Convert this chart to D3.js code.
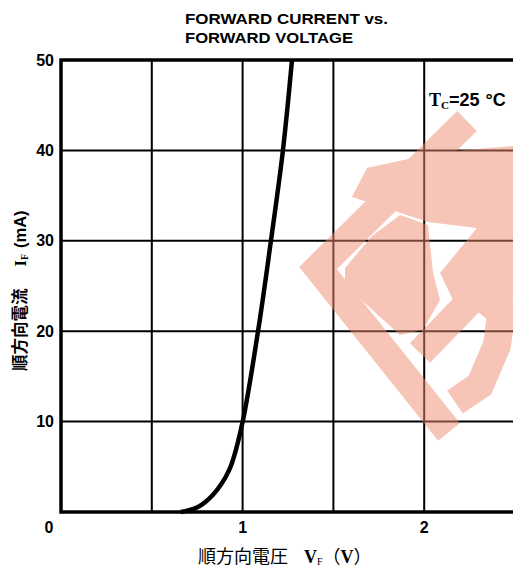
<!DOCTYPE html>
<html>
<head>
<meta charset="utf-8">
<script src="https://d3js.org/d3.v7.min.js"></script>
<style>
  body { margin: 0; background: #fff; }
  svg { display: block; }
</style>
</head>
<body>
<div id="chart"></div>
<script>
// forward voltage (V) vs forward current (mA)
var voltage = [0.66, 0.754, 0.837, 0.925, 0.995, 1.085, 1.156, 1.222, 1.272];
var current = [0, 0.55, 1.9, 4.6, 9.5, 20, 30, 40, 50];

var xGrid = [0, 0.5, 1, 1.5, 2, 2.5];
var yGrid = [0, 10, 20, 30, 40, 50];
var xTickLabels = ["0", "1", "2"];
var yTickLabels = ["10", "20", "30", "40", "50"];

var W = 513, H = 568;
var margin = {top: 60, left: 61, bottom: 56};

var svg = d3.select("#chart").append("svg")
  .attr("width", W).attr("height", H);

var x = d3.scaleLinear().domain([0, 2.5]).range([margin.left, 515]);
var y = d3.scaleLinear().domain([0, 50]).range([H - margin.bottom, margin.top]);

// grid
svg.selectAll("line.vg").data(xGrid.slice(1)).enter().append("line")
  .attr("x1", d => x(d)).attr("x2", d => x(d))
  .attr("y1", y(50)).attr("y2", y(0))
  .attr("stroke", "#000").attr("stroke-width", 2);
svg.selectAll("line.hg").data(yGrid.slice(1, 5)).enter().append("line")
  .attr("x1", x(0)).attr("x2", W)
  .attr("y1", d => y(d)).attr("y2", d => y(d))
  .attr("stroke", "#000").attr("stroke-width", 2);

// frame
svg.append("path")
  .attr("d", "M" + W + "," + y(50) + "H" + x(0) + "V" + y(0) + "H" + W)
  .attr("fill", "none").attr("stroke", "#000").attr("stroke-width", 3.5);

// the curve
var pts = voltage.map((v, i) => [v, current[i]]);
var line = d3.line()
  .x(d => x(d[0])).y(d => y(d[1]))
  .curve(d3.curveCatmullRom.alpha(0.5));
svg.append("path")
  .attr("d", line(pts))
  .attr("fill", "none").attr("stroke", "#000").attr("stroke-width", 4.5);

// watermark stamp (decoration)
var wm = svg.append("g").attr("opacity", 0.5);
var pink = "#f08c73";
var strokes = [
  [[467,121],[318,268],[449,432]],
  [[420,353],[513,257]],
  [[503,300],[497,345],[480,385],[455,402]]
];
strokes.forEach(function(s) {
  wm.append("path")
    .attr("d", d3.line()(s))
    .attr("fill", "none").attr("stroke", pink)
    .attr("stroke-width", 28).attr("stroke-linejoin", "miter");
});
var blocks = [
  [[367,168],[440,152],[513,146],[513,230],[477,228],[428,222],[352,197]],
  [[345,268],[372,236],[400,215],[428,225],[433,273],[440,300],[423,330],[400,335],[345,285]],
  [[440,273],[477,228],[513,228],[513,300],[490,322],[470,305],[453,300]]
];
blocks.forEach(function(b) {
  wm.append("path").attr("d", d3.line()(b) + "Z").attr("fill", pink);
});

// tick labels
var tickFont = "'Liberation Sans Narrow', 'Liberation Sans', sans-serif";
svg.selectAll("text.yt").data(yTickLabels).enter().append("text")
  .attr("x", 54).attr("y", d => y(+d) + 5.5)
  .attr("text-anchor", "end")
  .attr("font-family", tickFont).attr("font-weight", "bold").attr("font-size", 16)
  .text(d => d);
svg.selectAll("text.xt").data(xTickLabels).enter().append("text")
  .attr("x", d => d === "0" ? 49 : x(+d))
  .attr("y", 533)
  .attr("text-anchor", "middle")
  .attr("font-family", tickFont).attr("font-weight", "bold").attr("font-size", 16)
  .text(d => d);

// title
var title = svg.append("g")
  .attr("font-family", "'Liberation Sans', Arial, sans-serif")
  .attr("font-weight", "bold").attr("font-size", 15);
title.append("text").attr("x", 185).attr("y", 24)
  .attr("textLength", 203).attr("lengthAdjust", "spacingAndGlyphs")
  .text("FORWARD CURRENT vs.");
title.append("text").attr("x", 185).attr("y", 43)
  .attr("textLength", 168).attr("lengthAdjust", "spacingAndGlyphs")
  .text("FORWARD VOLTAGE");

// Tc label
var tc = svg.append("text").attr("x", 429).attr("y", 106)
  .attr("font-family", "'Liberation Serif', serif").attr("font-weight", "bold")
  .attr("font-size", 18);
tc.append("tspan").text("T");
tc.append("tspan").attr("font-size", 11).attr("dy", 3).text("C");
tc.append("tspan").attr("dy", -3).attr("font-family", "'Liberation Sans', sans-serif").text("=25");
tc.append("tspan").attr("dx", 6).attr("font-family", "'Liberation Sans', sans-serif").text("°C");

// x axis title
var xt = svg.append("text").attr("x", 198).attr("y", 563)
  .attr("font-size", 18).attr("font-family", "'Noto Sans CJK JP', sans-serif");
xt.append("tspan").text("順方向電圧");
xt.append("tspan").attr("dx", 16).attr("font-family", "'Liberation Serif', serif")
  .attr("font-weight", "bold").text("V");
xt.append("tspan").attr("font-size", 10).attr("dy", 2).attr("font-family", "'Liberation Serif', serif").text("F");
xt.append("tspan").attr("dy", -2).text("（");
xt.append("tspan").attr("font-family", "'Liberation Serif', serif").attr("font-weight", "bold").text("V");
xt.append("tspan").text("）");

// y axis title
var yt = svg.append("text")
  .attr("transform", "translate(26,371) rotate(-90)")
  .attr("font-size", 16.5).attr("font-weight", "bold")
  .attr("font-family", "'Noto Sans CJK JP', sans-serif");
yt.append("tspan").text("順方向電流");
yt.append("tspan").attr("dx", 22).attr("font-family", "'Liberation Serif', serif").text("I");
yt.append("tspan").attr("font-size", 10).attr("dy", 2).attr("font-family", "'Liberation Serif', serif").text("F");
yt.append("tspan").attr("dy", -2).attr("dx", 6).attr("font-family", "'Liberation Sans', sans-serif").text("(mA)");
</script>
</body>
</html>
